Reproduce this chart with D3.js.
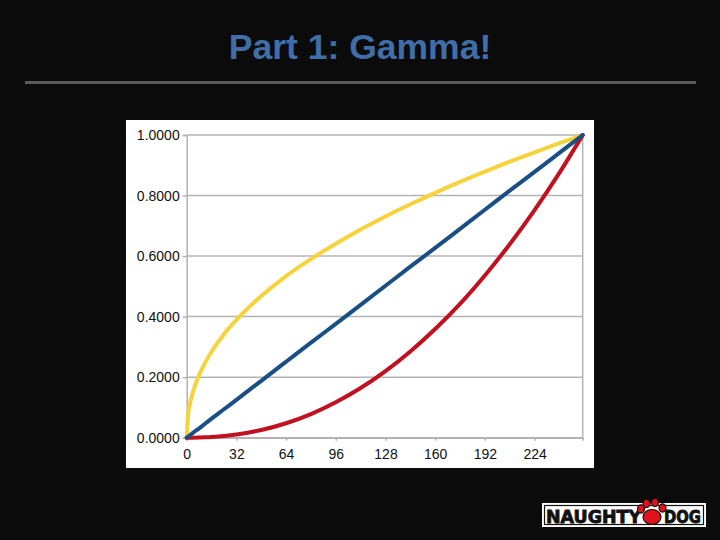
<!DOCTYPE html>
<html><head><meta charset="utf-8">
<script src="https://cdn.jsdelivr.net/npm/d3@7"></script>
<style>html,body{margin:0;padding:0;background:#0b0b0b;}svg{display:block;}</style>
</head><body>
<svg id="c" width="720" height="540"></svg>
<script>
// Data (input level 0..255 -> output 0..1)
const inputs   = [0, 1, 2, 4, 8, 12, 16, 24, 32, 48, 64, 80, 96, 112, 128, 144, 160, 176, 192, 208, 224, 240, 255];
const encoded  = [0, 0.081, 0.110, 0.151, 0.207, 0.249, 0.284, 0.342, 0.389, 0.468, 0.534, 0.590, 0.641, 0.688, 0.731, 0.771, 0.809, 0.845, 0.879, 0.912, 0.943, 0.973, 1.0];
const linear   = [0, 0.004, 0.008, 0.016, 0.031, 0.047, 0.063, 0.094, 0.125, 0.188, 0.251, 0.314, 0.376, 0.439, 0.502, 0.565, 0.627, 0.690, 0.753, 0.816, 0.878, 0.941, 1.0];
const decoded  = [0, 0.0000, 0.0000, 0.0001, 0.0005, 0.0012, 0.0023, 0.0055, 0.0104, 0.0254, 0.0478, 0.078, 0.117, 0.164, 0.220, 0.285, 0.359, 0.442, 0.536, 0.639, 0.752, 0.875, 1.0];
const xTicks   = [0, 32, 64, 96, 128, 160, 192, 224];
const yTicks   = [0, 0.2, 0.4, 0.6, 0.8, 1.0];
const title    = "Part 1: Gamma!";

const svg = d3.select("#c");
svg.append("rect").attr("width",720).attr("height",540).attr("fill","#0b0b0b");

// Title and rule
svg.append("text").attr("x",360).attr("y",59).attr("text-anchor","middle")
  .attr("font-family","Liberation Sans, Arial, sans-serif").attr("font-weight","bold")
  .attr("font-size",35.5).attr("fill","#3f6ea8").text(title);
svg.append("line").attr("x1",25).attr("x2",696).attr("y1",82.5).attr("y2",82.5)
  .attr("stroke","#5a5a5a").attr("stroke-width",3);

// Chart panel
svg.append("rect").attr("x",126).attr("y",120).attr("width",468).attr("height",348).attr("fill","#ffffff");

const x = d3.scaleLinear().domain([0,255]).range([186.7,582.7]);
const y = d3.scaleLinear().domain([0,1]).range([437.7,135]);

const g = svg.append("g");
g.selectAll("line.grid").data(yTicks).join("line").attr("class","grid")
  .attr("x1",x(0)).attr("x2",x(255)).attr("y1",d=>y(d)).attr("y2",d=>y(d))
  .attr("stroke","#b3b3b3").attr("stroke-width",1.5);
g.append("line").attr("x1",x(255)).attr("x2",x(255)).attr("y1",y(1)).attr("y2",y(0))
  .attr("stroke","#b3b3b3").attr("stroke-width",1.5);

// axes
const yAxis = d3.axisLeft(y).tickValues(yTicks).tickFormat(d3.format(".4f")).tickSize(4).tickPadding(3);
const yg = svg.append("g").attr("transform",`translate(${x(0)},0)`).call(yAxis);
const xAxis = d3.axisBottom(x).tickValues(xTicks).tickSize(3).tickPadding(8);
const xg = svg.append("g").attr("transform",`translate(0,${y(0)})`).call(xAxis);
[yg,xg].forEach(a=>{
  a.select(".domain").attr("stroke","#b3b3b3").attr("stroke-width",1.5);
  a.selectAll(".tick line").attr("stroke","#b3b3b3").attr("stroke-width",1.5);
  a.selectAll("text").attr("font-family","Liberation Sans, Arial, sans-serif")
   .attr("font-size",14).attr("fill","#111");
});
xg.selectAll("text").attr("dy","0.71em");

// series
const series = [
  {vals: encoded, color:"#f6d33c"},
  {vals: decoded, color:"#c1101f"},
  {vals: linear,  color:"#194f85"}
];
const line = d3.line().x((d,i)=>x(inputs[i])).y(d=>y(d)).curve(d3.curveMonotoneX);
svg.append("g").selectAll("path").data(series).join("path")
  .attr("d",s=>line(s.vals)).attr("fill","none")
  .attr("stroke",s=>s.color).attr("stroke-width",4).attr("stroke-linecap","round");

// logo
const lg = svg.append("g");
lg.append("rect").attr("x",542).attr("y",503).attr("width",164).attr("height",24).attr("fill","#fff");
lg.append("rect").attr("x",544.5).attr("y",505.5).attr("width",159).attr("height",19).attr("fill","none").attr("stroke","#111").attr("stroke-width",1.2);
const lf = {"font-family":"DejaVu Sans, Liberation Sans, sans-serif","font-weight":"bold","font-size":18.5,"fill":"#111","stroke":"#111","stroke-width":0.9};
const t1 = lg.append("text").attr("x",546).attr("y",523).attr("textLength",95).attr("lengthAdjust","spacingAndGlyphs").text("NAUGHTY");
const t2 = lg.append("text").attr("x",664).attr("y",523).attr("textLength",37).attr("lengthAdjust","spacingAndGlyphs").text("DOG");
[t1,t2].forEach(t=>Object.entries(lf).forEach(([k,v])=>t.attr(k,v)));
// paw
const paw = lg.append("g").attr("fill","#e0121b").attr("stroke","#111").attr("stroke-width",1.2);
paw.append("ellipse").attr("cx",652).attr("cy",517).attr("rx",9).attr("ry",7.5);
[[641,509,3.5,4.2],[646.5,503.5,3.5,4.2],[655,502.5,3.5,4.2],[662.5,508,3.5,4.2]].forEach(p=>
  paw.append("ellipse").attr("cx",p[0]).attr("cy",p[1]).attr("rx",p[2]).attr("ry",p[3]));
</script>
</body></html>
